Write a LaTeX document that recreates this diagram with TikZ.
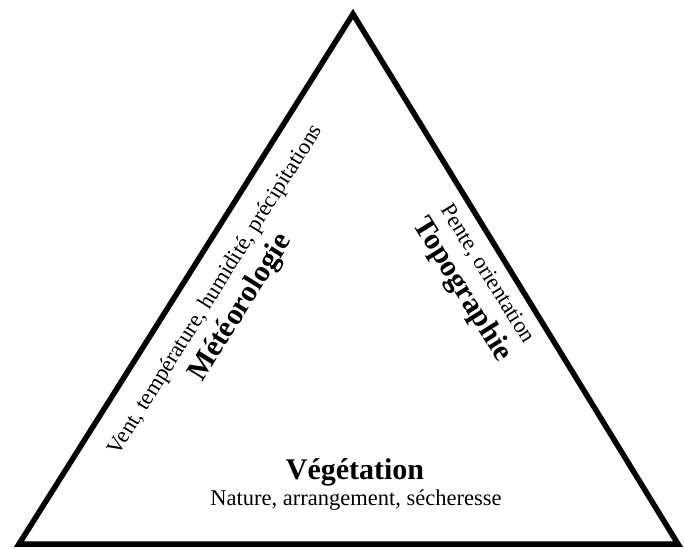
\documentclass[tikz,border=0pt]{standalone}
\usepackage{fontspec}
\setmainfont{Liberation Serif}
\usetikzlibrary{calc}
\tikzset{
  side/.style={line width=5.5pt, line join=miter},
  factor/.style={font=\fontsize{30}{32}\selectfont\bfseries, inner sep=0pt},
  detail/.style={font=\fontsize{22.5}{24}\selectfont, inner sep=0pt},
}

\begin{document}
\begin{tikzpicture}[x=1pt,y=-1pt]
  \useasboundingbox (0,0) rectangle (684,548);
  \coordinate (top) at (353,14);
  \coordinate (bl) at (19,544);
  \coordinate (br) at (678,544);
  \draw[side] (top) -- (bl) -- (br) -- cycle;

  % left side
  \node[detail, rotate=58] (metdet) at (216,290) {Vent, température, humidité, précipitations};
  \node[factor, rotate=58] (met) at (241,308) {Météorologie};
  % right side
  \node[detail, rotate=-58] (topdet) at (487,274) {Pente, orientation};
  \node[factor, rotate=-58] (topo) at (462,290) {Topographie};
  % bottom
  \node[factor, anchor=base] (veg) at (355,479) {Végétation};
  \node[detail, anchor=base] (vegdet) at (356,505) {Nature, arrangement, sécheresse};
\end{tikzpicture}
\end{document}
